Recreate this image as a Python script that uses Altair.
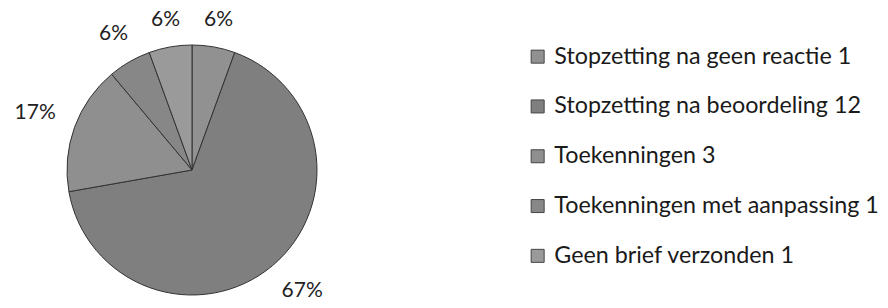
import altair as alt
import pandas as pd

categories = [
    "Stopzetting na geen reactie 1",
    "Stopzetting na beoordeling 12",
    "Toekenningen 3",
    "Toekenningen met aanpassing 1",
    "Geen brief verzonden 1",
]
counts = [1, 12, 3, 1, 1]
pct_labels = ["6%", "67%", "17%", "6%", "6%"]
colors = ["#919191", "#7f7f7f", "#8f8f8f", "#878787", "#9a9a9a"]

df = pd.DataFrame({
    "cat": categories,
    "value": counts,
    "label": pct_labels,
    "idx": list(range(len(categories))),
})

CX, CY, R = 184, 162, 125
YMAX = 283  # keep labels inside the drawing area

base = alt.Chart(df)

arc = base.mark_arc(stroke="#333333", strokeWidth=1).encode(
    theta=alt.Theta("value:Q", stack=True),
    order=alt.Order("idx:Q"),
    color=alt.Color(
        "cat:N",
        scale=alt.Scale(domain=categories, range=colors),
        sort=categories,
        legend=alt.Legend(
            title=None,
            orient="none",
            legendX=518,
            legendY=37,
            symbolType="square",
            symbolSize=169,
            symbolStrokeColor="#444444",
            symbolStrokeWidth=1,
            labelFont="Lato",
            labelFontSize=23.3,
            labelColor="#1a1a1a",
            labelOffset=5,
            rowPadding=25.8,
            labelLimit=400,
        ),
    ),
    x=alt.value(CX),
    y=alt.value(CY),
    radius=alt.value(R),
)

text = base.transform_joinaggregate(
    total="sum(value)"
).transform_window(
    cum="sum(value)", sort=[alt.SortField("idx")]
).transform_calculate(
    mid="(datum.cum - datum.value/2) / datum.total * 2 * PI - (datum.value > 6 ? 0.04 : 0)",
    hw="length(datum.label) * 7.5",
).transform_calculate(
    lr0=f"{R} + 16 + abs(sin(datum.mid)) * (datum.hw + 2) + abs(cos(datum.mid)) * 8.5"
).transform_calculate(
    lx=f"{CX} + datum.lr0 * sin(datum.mid)",
    ly=f"min({CY} - datum.lr0 * cos(datum.mid), {YMAX})",
).mark_text(font="Lato", fontSize=21, color="#222222").encode(
    x=alt.X("lx:Q", scale=None),
    y=alt.Y("ly:Q", scale=None),
    text="label:N",
)

chart = alt.layer(arc, text).properties(
    width=872, height=292, padding=0, autosize=alt.AutoSizeParams(type="none")
).configure_view(stroke=None)

chart.save("out.html", embed_options={"renderer": "svg", "actions": False})
